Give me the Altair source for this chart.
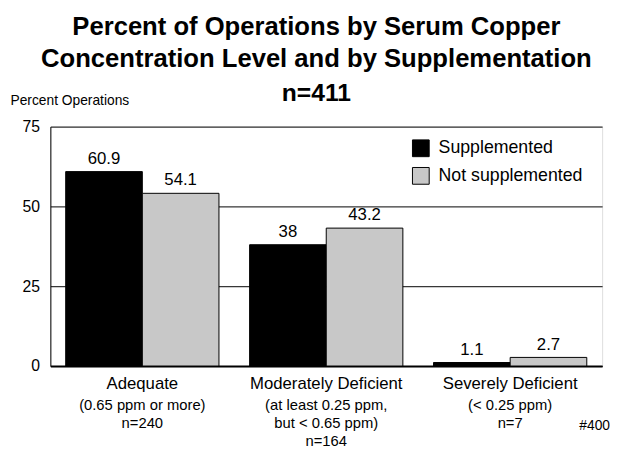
import altair as alt
import pandas as pd

categories = ["Adequate", "Moderately Deficient", "Severely Deficient"]
sublabels = [
    "(0.65 ppm or more)\nn=240",
    "(at least 0.25 ppm,\n\u00a0\u00a0\u00a0\u00a0but < 0.65 ppm)\nn=164",
    "(< 0.25 ppm)\nn=7",
]
groups = ["Supplemented", "Not supplemented"]
supplemented = [60.9, 38, 1.1]
not_supplemented = [54.1, 43.2, 2.7]
value_labels_supp = ["60.9", "38", "1.1"]
value_labels_not = ["54.1", "43.2", "2.7"]
colors = ["#000000", "#c8c8c8"]

rows = []
for i, c in enumerate(categories):
    rows.append({"category": c, "group": groups[0], "value": supplemented[i], "label": value_labels_supp[i]})
    rows.append({"category": c, "group": groups[1], "value": not_supplemented[i], "label": value_labels_not[i]})
df = pd.DataFrame(rows)
sub_df = pd.DataFrame({"category": categories, "sub": sublabels})

FONT = "Liberation Sans"

x_enc = alt.X(
    "category:N",
    sort=categories,
    scale=alt.Scale(paddingInner=0, paddingOuter=0),
    axis=alt.Axis(
        title=None, labelFontSize=17, labelColor="black", labelPadding=10,
        ticks=False, domainColor="black", domainWidth=2, labelAngle=0, labelFont=FONT,
    ),
)
xoff = alt.XOffset("group:N", sort=groups, scale=alt.Scale(paddingOuter=0.2, paddingInner=0))

bars = alt.Chart(df).mark_bar(stroke="black", strokeWidth=1).encode(
    x=x_enc,
    xOffset=xoff,
    y=alt.Y(
        "value:Q",
        scale=alt.Scale(domain=[0, 75], nice=False),
        axis=alt.Axis(
            values=[0, 25, 50, 75], grid=True, gridColor="black", gridOpacity=1,
            ticks=False, domainColor="black", labelFontSize=16, labelColor="black",
            labelPadding=11, labelFont=FONT,
            title="Percent Operations", titleAngle=0, titleAlign="left",
            titleBaseline="alphabetic", titleX=-41, titleY=-22, titleFontSize=14,
            titleFontWeight="normal", titleColor="black", titleFont=FONT,
        ),
    ),
    fill=alt.Fill(
        "group:N", sort=groups,
        scale=alt.Scale(domain=groups, range=colors),
        legend=alt.Legend(
            title=None, orient="none", legendX=367, legendY=13,
            symbolType="square", symbolSize=289, symbolStrokeColor="black",
            symbolStrokeWidth=1, labelFontSize=18, labelColor="black",
            labelFont=FONT, labelOffset=9, rowPadding=6,
        ),
    ),
)

values = alt.Chart(df).mark_text(
    baseline="bottom", dy=-4, fontSize=17, color="black", font=FONT
).encode(
    x=alt.X("category:N", sort=categories),
    xOffset=xoff,
    y="value:Q",
    text="label:N",
)

subs = alt.Chart(sub_df).mark_text(
    baseline="alphabetic", fontSize=15, color="black", font=FONT,
    lineBreak="\n", lineHeight=18,
).encode(
    x=alt.X("category:N", sort=categories),
    y=alt.value(288),
    text="sub:N",
)

note = alt.Chart(pd.DataFrame({"t": ["#400"]})).mark_text(
    align="right", baseline="alphabetic", fontSize=14, color="black", font=FONT
).encode(x=alt.value(568), y=alt.value(308), text="t:N")

chart = alt.layer(bars, values, subs, note).properties(
    width=560,
    height=243,
    title=alt.TitleParams(
        text=["Percent of Operations by Serum Copper", "Concentration Level and by Supplementation"],
        subtitle="n=411",
        fontSize=26, font=FONT, fontWeight="bold", color="black",
        subtitleFontSize=25, subtitleFont=FONT, subtitleFontWeight="bold",
        subtitleColor="black", lineHeight=33, subtitlePadding=9,
        anchor="middle", dx=-10, offset=-12,
    ),
    autosize=alt.AutoSizeParams(type="none"),
    padding={"left": 43, "top": 117, "right": 8, "bottom": 92},
).configure_view(stroke="black", strokeWidth=1).configure(font=FONT)

chart.save("out.html", embed_options={"renderer": "svg", "actions": False})
